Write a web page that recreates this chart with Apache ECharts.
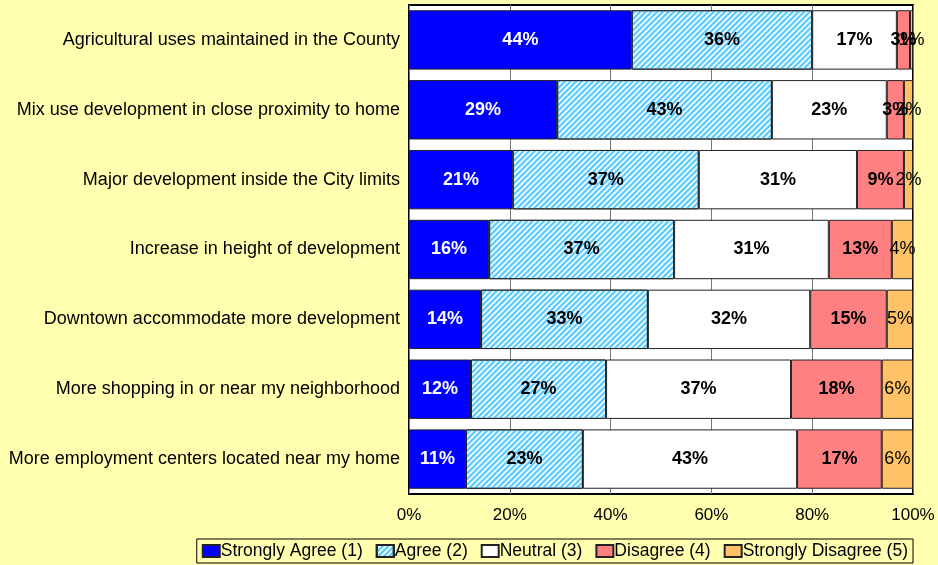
<!DOCTYPE html>
<html lang="en">
<head>
  <meta charset="UTF-8">
  <title>Survey</title>
  <style>
      html, body { margin: 0; padding: 0; background: #FFFFAF; }
      #chart { width: 938px; height: 565px; }
  </style>
</head>
<body>
<div id="chart"></div>
<script src="https://cdn.jsdelivr.net/npm/echarts@6/dist/echarts.min.js"></script>
<script>

  // categories, top to bottom
  const categories = [
    'Agricultural uses maintained in the County',
    'Mix use development in close proximity to home',
    'Major development inside the City limits',
    'Increase in height of development',
    'Downtown accommodate more development',
    'More shopping in or near my neighborhood',
    'More employment centers located near my home'
  ]

  // percent values
  const stronglyAgree = [44.2, 29.4, 20.6, 15.9, 14.3, 12.3, 11.3]
  const agree = [35.8, 42.6, 36.9, 36.7, 33.1, 26.8, 23.2]
  const neutral = [16.8, 22.8, 31.4, 30.7, 32.2, 36.7, 42.5]
  const disagree = [2.6, 3.4, 9.3, 12.5, 15.2, 18.0, 16.8]
  const stronglyDisagree = [0.6, 1.8, 1.8, 4.2, 5.2, 6.2, 6.2]

  const seriesNames = ['Strongly Agree (1)', 'Agree (2)', 'Neutral (3)', 'Disagree (4)', 'Strongly Disagree (5)']
  const xTicks = [0, 20, 40, 60, 80, 100]

  const font = '"Liberation Sans", Arial, sans-serif'

  function bar(name, data, color, labelColor, bold, decal) {
    const s = {
      name: name,
      type: 'bar',
      stack: 'total',
      barCategoryGap: '15%',
      data: data,
      itemStyle: { color: color, borderColor: '#222', borderWidth: 1 },
      label: {
        show: true,
        position: 'inside',
        color: labelColor,
        fontFamily: font,
        fontSize: 18,
        fontWeight: bold ? 'bold' : 'normal',
        formatter: p => Math.round(p.value) + '%'
      }
    }
    if (decal) s.itemStyle.decal = decal
    return s
  }

  const option = {
    backgroundColor: '#FFFFAF',
    animation: false,
    grid: {
      left: 409, right: 25, top: 5, bottom: 71,
      show: true,
      backgroundColor: '#fff',
      borderColor: '#000',
      borderWidth: 2
    },
    legend: {
      bottom: 2,
      right: 25,
      data: seriesNames,
      icon: 'rect',
      itemWidth: 17,
      itemHeight: 12,
      itemGap: 13,
      padding: [3, 5],
      borderColor: '#000',
      borderWidth: 1,
      backgroundColor: '#FFFFAF',
      textStyle: { fontFamily: font, fontSize: 17.5, color: '#000', padding: [0, 0, 0, -4] }
    },
    xAxis: {
      type: 'value',
      min: 0,
      max: 100,
      interval: 20,
      axisLine: { show: false },
      axisTick: { show: false },
      splitLine: { show: true, lineStyle: { color: '#777', width: 1 } },
      axisLabel: {
        fontFamily: font, fontSize: 17, color: '#000', margin: 13,
        formatter: v => xTicks.indexOf(v) >= 0 ? v + '%' : ''
      }
    },
    yAxis: {
      type: 'category',
      inverse: true,
      data: categories,
      axisLine: { show: false },
      axisTick: { show: false },
      axisLabel: { fontFamily: font, fontSize: 18, color: '#000', margin: 9 }
    },
    series: [
      bar(seriesNames[0], stronglyAgree, '#0000FF', '#fff', true),
      bar(seriesNames[1], agree, '#EAF8FF', '#000', true, {
        symbol: 'rect',
        dashArrayX: [1, 0],
        dashArrayY: [1.5, 1.5],
        rotation: -Math.PI / 4,
        color: '#55C8FF'
      }),
      bar(seriesNames[2], neutral, '#FFFFFF', '#000', true),
      bar(seriesNames[3], disagree, '#FF8080', '#000', true),
      bar(seriesNames[4], stronglyDisagree, '#FFC266', '#000', false)
    ]
  }

  const chart = echarts.init(document.getElementById('chart'))
  chart.setOption(option)

</script>
</body>
</html>
